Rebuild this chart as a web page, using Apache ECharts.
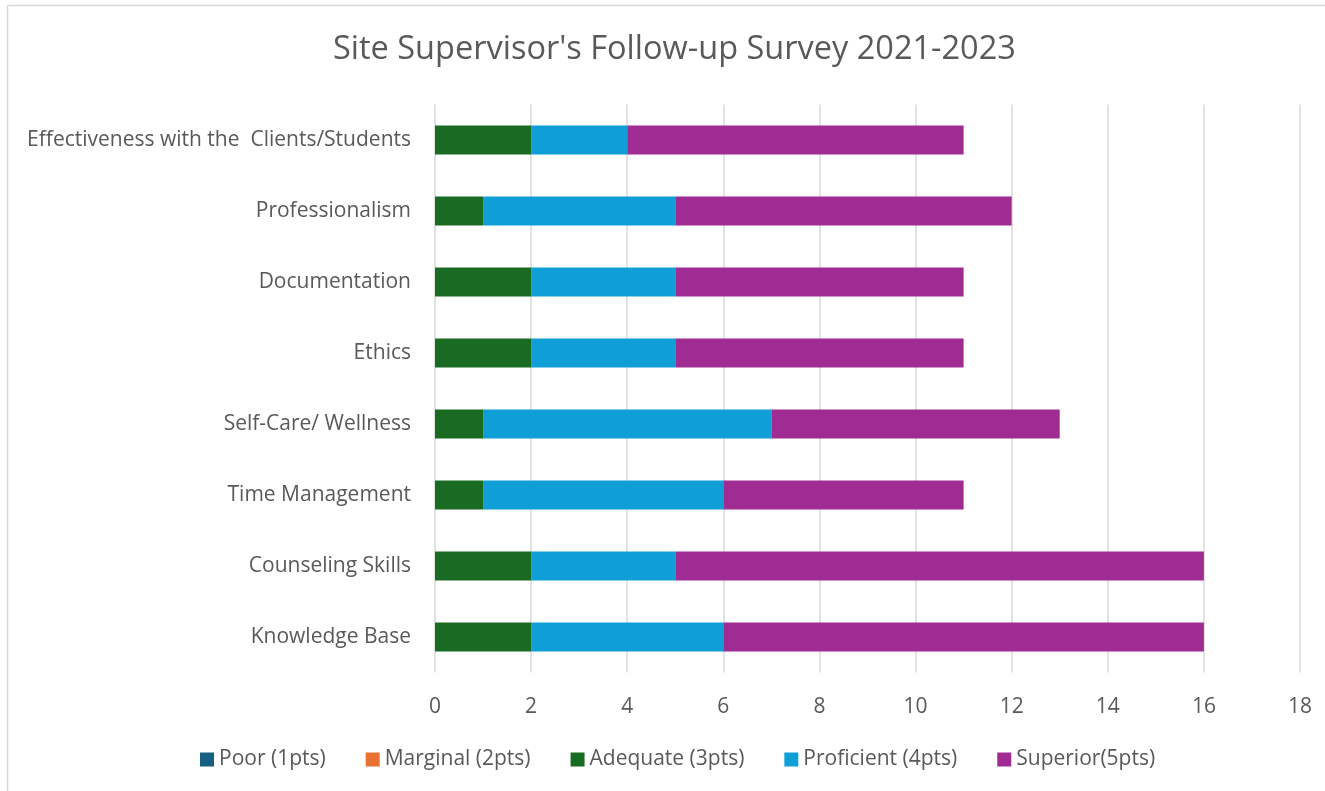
<!DOCTYPE html>
<html>
<head>
<meta charset="utf-8">
<script src="https://cdn.jsdelivr.net/npm/echarts@6/dist/echarts.min.js"></script>
<style>html,body{margin:0;padding:0;background:#fff;}#c{width:1325px;height:791px;}</style>
</head>
<body>
<div id="c"></div>
<script>
const titleText = "Site Supervisor's Follow-up Survey 2021-2023";
const categories = ["Knowledge Base", "Counseling Skills", "Time Management", "Self-Care/ Wellness", "Ethics", "Documentation", "Professionalism", "Effectiveness with the  Clients/Students"];
const seriesNames = ["Poor (1pts)", "Marginal (2pts)", "Adequate (3pts)", "Proficient (4pts)", "Superior(5pts)"];
const poor = [0, 0, 0, 0, 0, 0, 0, 0];
const marginal = [0, 0, 0, 0, 0, 0, 0, 0];
const adequate = [2, 2, 1, 1, 2, 2, 1, 2];
const proficient = [4, 3, 5, 6, 3, 3, 4, 2];
const superior = [10, 11, 5, 6, 6, 6, 7, 7];
const colors = ["#156082", "#E97132", "#196B24", "#0F9ED5", "#A02B93"];

const font = "'Open Sans', sans-serif";
const chart = echarts.init(document.getElementById('c'));
const values = [poor, marginal, adequate, proficient, superior];
chart.setOption({
  animation: false,
  color: colors,
  graphic: [{
    type: 'rect', silent: true, z: -10,
    shape: { x: 7.5, y: 5.5, width: 1400, height: 900 },
    style: { fill: '#fff', stroke: '#d9d9d9', lineWidth: 1.5 }
  }],
  title: {
    text: titleText, left: 328, top: 28,
    textStyle: { fontFamily: font, fontSize: 32.5, fontWeight: 'normal', color: '#595959' }
  },
  legend: {
    bottom: 16, left: 195, itemWidth: 14, itemHeight: 14, itemGap: 40,
    icon: 'rect',
    textStyle: { fontFamily: font, fontSize: 21, color: '#595959' },
    data: seriesNames
  },
  grid: { left: 435, right: 25, top: 104.5, bottom: 118.5, containLabel: false },
  xAxis: {
    type: 'value', min: 0, max: 18, interval: 2,
    axisLine: { show: false }, axisTick: { show: false },
    splitLine: { lineStyle: { color: '#d9d9d9', width: 1.5 } },
    axisLabel: { fontFamily: font, fontSize: 21, color: '#595959', margin: 24 }
  },
  yAxis: {
    type: 'category', data: categories,
    axisLine: { show: false }, axisTick: { show: false },
    axisLabel: { fontFamily: font, fontSize: 21, color: '#595959', margin: 24 }
  },
  series: seriesNames.map((n, i) => ({
    name: n, type: 'bar', stack: 'total', data: values[i], barWidth: 29
  }))
});
</script>
</body>
</html>
